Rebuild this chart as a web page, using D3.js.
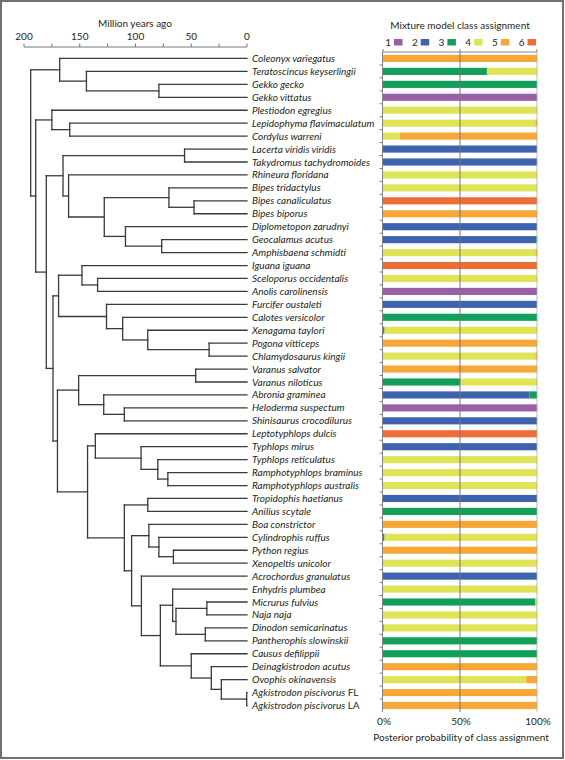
<!DOCTYPE html>
<html><head><meta charset="utf-8">
<script src="https://cdn.jsdelivr.net/npm/d3@7"></script>
<style>
body{margin:0;background:#fff}
svg{display:block}
text{font-family:Lato,"Open Sans",sans-serif;fill:#231f20}
</style>
</head><body><svg id="c" width="565" height="760"></svg>
<script>
// ---------------- DATA ----------------
const species = [
"Coleonyx variegatus","Teratoscincus keyserlingii","Gekko gecko","Gekko vittatus",
"Plestiodon egregius","Lepidophyma flavimaculatum","Cordylus warreni",
"Lacerta viridis viridis","Takydromus tachydromoides","Rhineura floridana",
"Bipes tridactylus","Bipes canaliculatus","Bipes biporus","Diplometopon zarudnyi",
"Geocalamus acutus","Amphisbaena schmidti","Iguana iguana","Sceloporus occidentalis",
"Anolis carolinensis","Furcifer oustaleti","Calotes versicolor","Xenagama taylori",
"Pogona vitticeps","Chlamydosaurus kingii","Varanus salvator","Varanus niloticus",
"Abronia graminea","Heloderma suspectum","Shinisaurus crocodilurus","Leptotyphlops dulcis",
"Typhlops mirus","Typhlops reticulatus","Ramphotyphlops braminus","Ramphotyphlops australis",
"Tropidophis haetianus","Anilius scytale","Boa constrictor","Cylindrophis ruffus",
"Python regius","Xenopeltis unicolor","Acrochordus granulatus","Enhydris plumbea",
"Micrurus fulvius","Naja naja","Dinodon semicarinatus","Pantherophis slowinskii",
"Causus defilippii","Deinagkistrodon acutus","Ovophis okinavensis",
"Agkistrodon piscivorus FL","Agkistrodon piscivorus LA"
];
// upright (non-italic) suffixes of labels
const uprightSuffix = ["FL","LA"];

// tree topology: leaves are indices into species, internal labels = node age (Mya)
const treeNewick = "((0,(1,(2,3)79)144)168,((4,(5,6)159)175,(((7,8)56,(9,((10,(11,12)47.5)70,(13,(14,15)76.5)109)128)160)165,(((16,(17,18)134)148,(19,(20,(21,(22,23)34)89)111.5)126)169,(((24,25)46,(26,(27,28)110)128.5)151,((29,(30,(31,(32,33)71)80)95)136,((34,35)89,((36,(37,(38,39)66)79)88,(40,((41,((42,43)36,(44,45)37.4)63.7)66.7,(46,(47,(48,(49,50)0.3)23)32)50)77.7)94.7)103.5)110)143)170)174)180)189.5)194";

const classes = ["1","2","3","4","5","6"];
const classColors = ["#9a5fa7","#3d63ae","#10a05a","#dfe455","#f7a735","#ef6c36"];

// posterior probability of class 1..6 for each species
const posterior = [
[0,0,0,0,1,0],[0,0,0.675,0.325,0,0],[0,0,1,0,0,0],[1,0,0,0,0,0],
[0,0,0,1,0,0],[0,0,0,0.99,0.01,0],[0,0,0,0.11,0.89,0],
[0,1,0,0,0,0],[0,1,0,0,0,0],[0,0,0,1,0,0],
[0,0,0,1,0,0],[0,0,0,0,0,1],[0,0,0,0,1,0],[0,1,0,0,0,0],
[0,0.995,0.005,0,0,0],[0,0,0,0.99,0.01,0],[0,0,0,0,0,1],[0,0,0,1,0,0],
[1,0,0,0,0,0],[0,1,0,0,0,0],[0,0,1,0,0,0],[0,0,0.01,0.99,0,0],
[0,0,0,0,1,0],[0,0,0,0.99,0.01,0],[0,0,0,0,1,0],[0,0,0.5,0.5,0,0],
[0,0.95,0.05,0,0,0],[1,0,0,0,0,0],[0,1,0,0,0,0],[0,0,0,0,0,1],
[0,1,0,0,0,0],[0,0,0,1,0,0],[0,0,0,1,0,0],[0,0,0,1,0,0],
[0,1,0,0,0,0],[0,0,1,0,0,0],[0,0,0,0,1,0],[0,0,0.01,0.99,0,0],
[0,0,0,0,1,0],[0,0,0,1,0,0],[0,1,0,0,0,0],[0,0,0,1,0,0],
[0,0,0.99,0.01,0,0],[0,0,0,1,0,0],[0,0,0.005,0.995,0,0],[0,0,1,0,0,0],
[0,0,1,0,0,0],[0,0,0,0,1,0],[0,0,0,0.93,0.07,0],
[0,0,0,0,1,0],[0,0,0,0,1,0]
];

const ageTicks = [200,150,100,50,0];
const ageMinorTicks = [175,125,75,25];
const pctTicks = [0,0.5,1];
const pctLabels = ["0%","50%","100%"];

// ---------------- PARSE TREE ----------------
function parseNewick(s){
  let i=0;
  function node(){
    if(s[i]==='('){
      i++; const ch=[node()];
      while(s[i]===','){i++; ch.push(node());}
      i++;
      let num=''; while(i<s.length && /[0-9.]/.test(s[i])) num+=s[i++];
      return {children:ch, age:+num};
    } else {
      let num=''; while(i<s.length && /[0-9]/.test(s[i])) num+=s[i++];
      return {leaf:+num, age:0};
    }
  }
  return node();
}

// ---------------- DRAW ----------------
const svg = d3.select("#c");
const FS = 10;

svg.append("rect").attr("x",1).attr("y",1).attr("width",562).attr("height",757)
  .attr("fill","none").attr("stroke","#707070").attr("stroke-width",2);

const x = d3.scaleLinear().domain([200,0]).range([24,247]);
const y = d3.scaleBand().domain(d3.range(species.length)).range([52,712]).paddingInner(0.45).paddingOuter(0.225);
const yc = i => y(i) + y.bandwidth()/2;

// time axis
const ta = svg.append("g").attr("transform","translate(0,47)");
ta.append("line").attr("x1",x(200)).attr("x2",x(0)).attr("stroke","#555").attr("stroke-width",0.8);
ta.selectAll(".tk").data(ageTicks.concat(ageMinorTicks)).join("line")
  .attr("x1",d=>x(d)).attr("x2",d=>x(d)).attr("y1",-3.5).attr("y2",0)
  .attr("stroke","#555").attr("stroke-width",0.8);
ta.selectAll(".tl").data(ageTicks).join("text")
  .attr("x",d=>x(d)).attr("y",-11).attr("text-anchor","middle").attr("dy","0.35em")
  .attr("font-size",FS).text(d=>d);
svg.append("text").attr("x",135).attr("y",23).attr("dy","0.35em").attr("text-anchor","middle")
  .attr("font-size",FS).text("Million years ago");

// tree
const root = d3.hierarchy(parseNewick(treeNewick));
root.eachAfter(n=>{
  if(!n.children) n.yy = yc(n.data.leaf);
  else n.yy = (n.children[0].yy + n.children[n.children.length-1].yy)/2;
});
const tg = svg.append("g").attr("stroke","#3a3a3a").attr("stroke-width",1.3).attr("fill","none").attr("stroke-linecap","square");
root.each(n=>{
  if(!n.children) return;
  const xn = x(n.data.age);
  const c0 = n.children[0], c1 = n.children[n.children.length-1];
  tg.append("line").attr("x1",xn).attr("x2",xn).attr("y1",c0.yy).attr("y2",c1.yy);
  n.children.forEach(c=>{
    tg.append("line").attr("x1",xn).attr("x2",x(c.data.age)).attr("y1",c.yy).attr("y2",c.yy);
  });
});

// species labels
const lab = svg.append("g").selectAll("text").data(species).join("text")
  .attr("x",252).attr("y",(d,i)=>yc(i)).attr("dy","0.35em").attr("font-size",FS);
lab.each(function(d){
  const t = d3.select(this);
  const parts = d.split(" ");
  const last = parts[parts.length-1];
  if(uprightSuffix.includes(last)){
    t.append("tspan").attr("font-style","italic").text(parts.slice(0,-1).join(" ")+" ");
    t.append("tspan").text(last);
  } else {
    t.append("tspan").attr("font-style","italic").text(d);
  }
});

// bars
const bx = d3.scaleLinear().domain([0,1]).range([383,537]);
const stack = d3.stack().keys(d3.range(classes.length)).value((d,k)=>d[k]);
const series = stack(posterior);
const bg = svg.append("g");
series.forEach((s,k)=>{
  const segs = s.map((d,i)=>({x0:d[0],x1:d[1],i})).filter(d=>d.x1-d.x0>0);
  bg.append("g").attr("fill",classColors[k]).selectAll("rect").data(segs).join("rect")
    .attr("x",d=>bx(d.x0)).attr("width",d=>bx(d.x1)-bx(d.x0))
    .attr("y",d=>y(d.i)).attr("height",y.bandwidth());
});

// bar frame: left axis with between-row ticks, top line, 50% and 100% lines
const fr = svg.append("g").attr("stroke","#666").attr("stroke-width",0.8);
fr.append("line").attr("x1",bx(0)-0.5).attr("x2",bx(0)-0.5).attr("y1",52).attr("y2",712);
fr.append("line").attr("x1",bx(0)-0.5).attr("x2",bx(1)).attr("y1",52).attr("y2",52);
fr.selectAll(".rt").data(d3.range(1,species.length)).join("line")
  .attr("x1",bx(0)-3.5).attr("x2",bx(0)-0.5)
  .attr("y1",i=>y(i)-(y.step()-y.bandwidth())/2).attr("y2",i=>y(i)-(y.step()-y.bandwidth())/2);
fr.selectAll(".pt").data(pctTicks).join("line")
  .attr("x1",d=>bx(d)).attr("x2",d=>bx(d)).attr("y1",49).attr("y2",52);
fr.append("line").attr("x1",bx(0.5)).attr("x2",bx(0.5)).attr("y1",52).attr("y2",712).attr("stroke","#777").attr("stroke-width",1);
fr.append("line").attr("x1",bx(1)).attr("x2",bx(1)).attr("y1",52).attr("y2",712).attr("stroke","#aaa");

svg.selectAll(".pl").data(pctTicks).join("text")
  .attr("x",d=>bx(d)+1).attr("y",721).attr("dy","0.35em").attr("text-anchor","middle")
  .attr("font-size",FS).text((d,i)=>pctLabels[i]);
svg.append("text").attr("x",461).attr("y",737).attr("dy","0.35em").attr("text-anchor","middle")
  .attr("font-size",FS).text("Posterior probability of class assignment");

// legend
svg.append("text").attr("x",460).attr("y",25).attr("dy","0.35em").attr("text-anchor","middle")
  .attr("font-size",FS).text("Mixture model class assignment");
const lg = svg.append("g").selectAll("g").data(classes).join("g")
  .attr("transform",(d,i)=>`translate(${394+i*26.7},42)`);
lg.append("rect").attr("x",0).attr("y",-3).attr("width",8.5).attr("height",6.5).attr("fill",(d,i)=>classColors[i]);
lg.append("text").attr("x",-3).attr("y",0).attr("dy","0.35em").attr("text-anchor","end").attr("font-size",FS).text(d=>d);
</script></body></html>
